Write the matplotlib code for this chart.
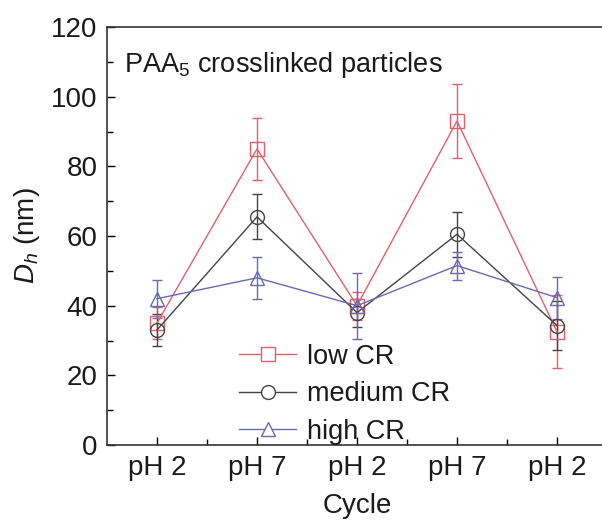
import matplotlib
matplotlib.use("Agg")
import matplotlib.pyplot as plt
from matplotlib.lines import Line2D
from matplotlib.ticker import MultipleLocator

plt.rcParams['font.family'] = ['Liberation Sans', 'DejaVu Sans']
plt.rcParams['mathtext.fontset'] = 'custom'
plt.rcParams['mathtext.rm'] = 'Liberation Sans'
plt.rcParams['mathtext.it'] = 'Liberation Sans:italic'

# cycle steps
cycle = [1, 2, 3, 4, 5]
cycle_labels = ['pH 2', 'pH 7', 'pH 2', 'pH 7', 'pH 2']

# hydrodynamic diameter (nm) and error bars
low_cr = [35, 85, 40, 93, 32.5]
low_err = [4.5, 9, 4, 10.5, 10.5]
medium_cr = [33, 65.5, 38, 60.5, 34.3]
medium_err = [4.5, 6.5, 4, 6.5, 7]
high_cr = [42, 48, 40, 51.5, 42.3]
high_err = [5.5, 6, 9.5, 4, 6]

fig = plt.figure(figsize=(6.02, 5.23), dpi=100)
ax = fig.add_axes([107 / 602, 78 / 523, 500 / 602, 418 / 523])

series = [
    (low_cr, low_err, '#e0606e', 's', 'low CR'),
    (medium_cr, medium_err, '#444444', 'o', 'medium CR'),
    (high_cr, high_err, '#6a6ab4', '^', 'high CR'),
]
handles = []
for vals, errs, col, mk, lab in series:
    ax.errorbar(cycle, vals, yerr=errs, color=col, marker=mk, markersize=10,
                markerfacecolor='none', markeredgecolor=col, markeredgewidth=1.0,
                linewidth=1.0, elinewidth=1.0, capsize=3.5, capthick=1.0)
    handles.append(Line2D([], [], color=col, marker=mk, markersize=10,
                          markerfacecolor='white', markeredgecolor=col,
                          linewidth=1.0, label=lab))

ax.set_xlim(0.5, 5.5)
ax.set_ylim(0, 120)
ax.set_xticks(cycle)
ax.set_xticklabels(cycle_labels)
ax.set_xticks([1.5, 2.5, 3.5, 4.5], minor=True)
ax.yaxis.set_major_locator(MultipleLocator(20))
ax.yaxis.set_minor_locator(MultipleLocator(10))
ax.tick_params(which='both', direction='in', labelsize=20, width=1.0, pad=7,
               labelcolor='#1a1a1a')
ax.tick_params(which='major', length=6)
ax.tick_params(which='minor', length=4)
for sp in ax.spines.values():
    sp.set_linewidth(1.2)
    sp.set_color('#333333')

ax.set_xlabel('Cycle', fontsize=20, labelpad=9, color='#1a1a1a')
ax.set_ylabel('$D_h$ (nm)', fontsize=20, labelpad=6, color='#1a1a1a')

ax.text(0.035, 0.945, 'PAA$_5$ crosslinked particles', transform=ax.transAxes,
        fontsize=19.5, va='top', ha='left', color='#1a1a1a')

leg = ax.legend(handles=handles, loc='lower left', bbox_to_anchor=(0.243, -0.025),
                frameon=False, fontsize=19.5, handlelength=2.1, handletextpad=0.4,
                labelspacing=0.42, borderaxespad=0.2, borderpad=0.2)
for t in leg.get_texts():
    t.set_color('#1a1a1a')

fig.savefig('out.png', dpi=100)
